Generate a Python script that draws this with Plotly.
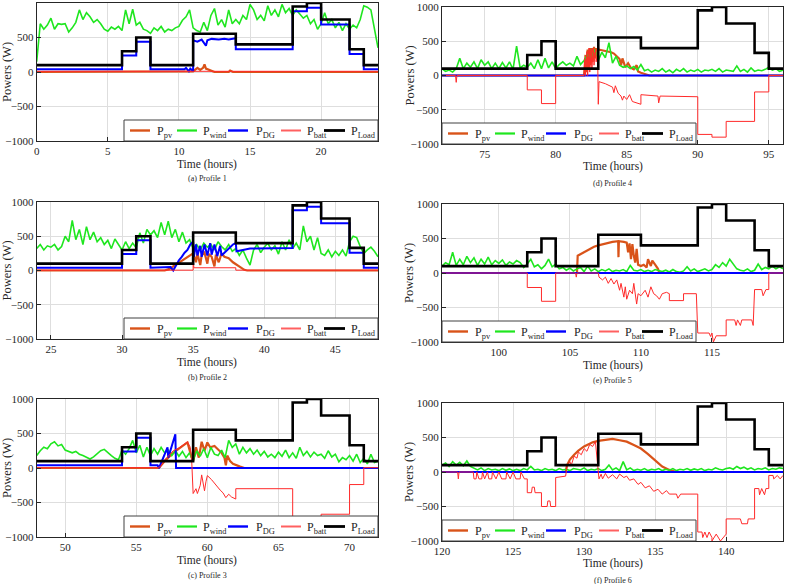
import numpy as np
import plotly.graph_objects as go

# ---------------- data ----------------
load_hourly = [100, 100, 100, 100, 100, 100, 300, 500, 100, 100, 100, 555,
               555, 555, 400, 400, 400, 400, 950, 1000, 760, 760, 330, 100]

profile_start = [0, 24, 48, 72, 96, 120]
captions = ["(a) Profile 1", "(b) Profile 2", "(c) Profile 3",
            "(d) Profile 4", "(e) Profile 5", "(f) Profile 6"]

# wind power sampled every 0.25 h over each 24 h profile
wind1 = [150, 700, 620, 680, 780, 620, 700, 690, 700, 580, 640, 720, 900, 760, 860, 800,
         720, 760, 700, 620, 590, 650, 620, 660, 600, 900, 700, 910, 680, 720, 620, 600,
         560, 640, 600, 660, 580, 620, 600, 640, 660, 750, 800, 900, 640, 600, 580, 720,
         600, 820, 920, 680, 760, 650, 900, 700, 760, 700, 820, 760, 980, 900, 760, 820,
         740, 960, 820, 900, 800, 980, 860, 920, 820, 900, 840, 780, 820, 700, 760, 620,
         700, 860, 700, 760, 640, 720, 600, 700, 620, 680, 640, 760, 960, 940, 900, 650, 350]
wind2 = [320, 380, 300, 360, 340, 380, 300, 350, 500, 420, 730, 450, 600, 380, 640, 450,
         560, 420, 480, 380, 440, 320, 460, 380, 300, 420, 320, 400, 330, 550, 400, 600,
         520, 580, 480, 700, 520, 720, 480, 600, 420, 560, 400, 450, 320, 380, 300, 400,
         340, 380, 300, 420, 350, 300, 380, 280, 320, 220, 300, 180, 80, 300, 380, 260,
         340, 400, 300, 360, 240, 420, 300, 450, 320, 400, 300, 650, 420, 500, 300, 480,
         250, 220, 300, 200, 280, 220, 300, 210, 420, 500, 480, 350, 250, 300, 340, 280, 200]
wind3 = [180, 250, 300, 280, 350, 380, 320, 340, 260, 240, 220, 240, 200, 180, 150, 130,
         160, 200, 250, 270, 220, 180, 140, 120, 260, 200, 280, 400, 220, 330, 160, 300,
         180, 280, 200, 300, 220, 260, 180, 250, 170, 240, 150, 220, 100, 250, 170, 280,
         150, 300, 200, 180, 260, 150, 400, 300, 350, 200, 300, 220, 280, 200, 260, 180,
         240, 160, 200, 150, 230, 170, 260, 150, 220, 140, 300, 180, 240, 160, 230, 180,
         200, 140, 250, 160, 200, 90, 150, 120, 180, 100, 200, 80, 140, 60, 200, 80, 100]
wind4 = [100, 60, 80, 50, 100, 250, 100, 180, 120, 200, 100, 230, 150, 200, 100, 180,
         100, 190, 110, 200, 90, 430, 110, 150, 120, 180, 100, 230, 100, 250, 110, 200,
         100, 160, 200, 150, 180, 140, 280, 160, 220, 300, 260, 380, 220, 340, 260, 480,
         180, 280, 150, 120, 140, 100, 130, 80, 160, 70, 90, 50, 80, 60, 100, 50,
         80, 40, 90, 60, 100, 50, 80, 60, 90, 50, 80, 70, 90, 60, 100, 50,
         80, 70, 60, 140, 60, 90, 50, 110, 60, 80, 70, 90, 120, 80, 100, 60, 80]
wind5 = [100, 150, 120, 300, 110, 200, 120, 240, 150, 220, 110, 200, 130, 230, 120, 180,
         140, 190, 110, 160, 130, 180, 150, 80, 130, 200, 90, 120, 60, 110, 200, 90,
         130, 60, 80, 40, 70, 30, 60, 80, 20, 100, 30, 60, 20, 50, 30, 60,
         20, 40, 30, 50, 20, 110, 40, 30, 50, 20, 40, 20, 50, 30, 20, 40,
         15, 50, 20, 10, 30, 90, 30, 60, 20, 40, 60, 30, 50, 120, 80, 150,
         100, 200, 120, 60, 40, 30, 60, 20, 40, 130, 50, 80, 60, 100, 60, 90, 60]
wind6 = [100, 130, 80, 150, 100, 140, 90, 160, 80, 50, 30, 60, 20, 50, 30, 40,
         20, 50, 25, 45, 20, 40, 20, 50, 30, 80, 30, 40, 20, 50, 30, 40,
         20, 50, 30, 40, 20, 50, 40, 30, 60, 20, 40, 30, 50, 20, 40, 100,
         30, 60, 20, 150, 30, 60, 20, 40, 25, 50, 20, 40, 30, 50, 20, 40,
         25, 50, 20, 40, 30, 50, 25, 45, 30, 50, 20, 40, 30, 60, 40, 30,
         50, 60, 40, 80, 50, 70, 40, 60, 30, 50, 40, 60, 30, 50, 40, 60, 50]

# PV, DG and battery power as (time h, power W) breakpoints
pv1 = [(0, 0), (11.0, 10), (11.3, 60), (11.5, 30), (11.7, 60), (11.8, 110), (11.9, 50),
       (12.2, 20), (12.5, 0), (13.5, 0), (13.6, 20), (13.8, 0), (24, 0)]
dg1 = [(0, 40), (6, 40), (6, 240), (7, 240), (7, 440), (8, 440), (8, 40), (10.4, 40),
       (10.5, 60), (10.7, 10), (10.8, 50), (11, 10), (11, 460), (11.3, 440), (11.6, 470),
       (11.9, 380), (12.0, 460), (12.3, 480), (12.8, 470), (13.2, 480), (13.5, 470),
       (14, 490), (14, 330), (18, 330), (18, 880), (19, 880), (19, 930), (20, 930),
       (20, 690), (22, 690), (22, 260), (23, 260), (23, 40), (24, 40)]
batt1 = [(0, 10), (24, 10)]

pv2 = [(24, 0), (33, 0), (33.3, 20), (33.6, 60), (33.9, 100), (34.2, 150), (34.5, 190),
       (34.8, 230), (35, 250), (35.2, 120), (35.3, 250), (35.5, 80), (35.6, 220), (35.8, 260),
       (36, 100), (36.1, 240), (36.3, 200), (36.5, 60), (36.6, 230), (36.8, 120), (37, 250),
       (37.2, 200), (37.5, 180), (37.8, 120), (38.0, 90), (38.3, 50), (38.6, 10), (38.8, 0),
       (48, 0)]
dg2 = [(24, 40), (30, 40), (30, 240), (31, 240), (31, 440), (32, 440), (32, 40), (33.2, 40),
       (33.4, 50), (33.6, 0), (33.8, 80), (34.0, 150), (34.2, 200), (34.4, 260), (34.6, 300),
       (34.8, 380), (35.0, 420), (35.05, 200), (35.2, 380), (35.3, 220), (35.5, 360),
       (35.6, 200), (35.8, 380), (36, 220), (36.2, 400), (36.3, 230), (36.5, 380), (36.7, 210),
       (36.9, 360), (37, 220), (37.2, 260), (37.5, 320), (37.8, 380), (38, 400), (38.05, 280),
       (38.5, 300), (39, 320), (42, 330), (42, 880), (43, 880), (43, 930), (44, 930),
       (44, 690), (46, 690), (46, 260), (47, 260), (47, 40), (48, 40)]
batt2 = [(24, 5), (35, 5), (35, 220), (35.05, 40), (38, 40), (38, 5), (48, 5)]

pv3 = [(48, 0), (56.6, 0), (57.0, 100), (57.5, 200), (58.0, 280), (58.6, 370), (58.9, 150),
       (59.0, 100), (59.2, 300), (59.4, 150), (59.6, 380), (59.8, 250), (60.0, 370),
       (60.2, 300), (60.5, 320), (60.8, 260), (61.0, 220), (61.2, 150), (61.3, 40),
       (61.4, 180), (61.6, 100), (61.8, 60), (62.0, 40), (62.3, 20), (62.6, 0), (72, 0)]
dg3 = [(48, 40), (54, 40), (54, 240), (55, 240), (55, 440), (56, 440), (56, 40), (56.5, 40),
       (56.6, 0), (57.2, 300), (57.25, 150), (57.75, 490), (57.8, 0), (72, 0)]
batt3 = [(48, 5), (56.5, 5), (56.7, 20), (57.0, 120), (57.3, 180), (57.6, 250), (58.0, 290),
         (58.3, 330), (58.6, 380), (58.8, 300), (58.9, 100), (59.0, -370), (59.2, -300),
         (59.3, -370), (59.5, -250), (59.6, -100), (59.7, -250), (59.8, -330), (59.9, -200),
         (60.0, -110), (60.3, -170), (60.6, -250), (60.9, -320), (61.1, -360), (61.3, -430),
         (61.5, -380), (61.7, -420), (62, -450), (62, -300), (66, -300), (66, -880),
         (68, -880), (68, -670), (70, -670), (70, -240), (71, -240), (71, 5), (72, 5)]

pv4 = [(72, 0), (82, 0), (82.1, 300), (82.15, 50), (82.25, 380), (82.3, 100), (82.4, 400),
       (82.45, 150), (82.55, 400), (82.6, 200), (82.7, 420), (82.75, 250), (82.85, 400),
       (82.9, 300), (83, 380), (83.3, 370), (83.6, 360), (83.9, 340), (84.1, 320), (84.3, 280),
       (84.5, 240), (84.6, 150), (84.7, 250), (84.9, 120), (85.1, 180), (85.3, 110),
       (85.5, 90), (85.7, 150), (85.8, 60), (86, 40), (86.3, 20), (86.6, 0), (96, 0)]
dg4 = [(72, 0), (96, 0)]
batt4 = [(72, 0), (72.95, 0), (73.0, -100), (73.05, 0), (78, 0), (78, -210), (79, -210),
         (79, -410), (80, -410), (80, 0), (82, 0), (82.05, 250), (82.1, 0), (82.2, 350),
         (82.25, 0), (82.35, 400), (82.4, 50), (82.5, 380), (82.55, 100), (82.65, 400),
         (82.7, 150), (82.8, 380), (82.85, 200), (82.95, 350), (83, -420), (83.05, -90),
         (83.5, -120), (84, -170), (84.1, -250), (84.2, -150), (84.4, -260), (84.6, -300),
         (84.7, -360), (84.8, -300), (85, -350), (85.2, -280), (85.4, -380), (85.8, -400),
         (86, -420), (86, -280), (86.5, -290), (87.2, -300), (87.25, -400), (87.35, -300),
         (90, -310), (90, -860), (91, -860), (91, -900), (92, -900), (92, -670), (94, -670),
         (94, -240), (95, -240), (95, 0), (96, 0)]

pv5 = [(96, 0), (105.5, 0), (105.55, 250), (105.8, 280), (106.1, 320), (106.4, 350),
       (106.7, 380), (107, 400), (107.5, 430), (108, 450), (108.4, 460), (108.42, 230),
       (108.45, 460), (108.8, 450), (109, 440), (109.1, 300), (109.2, 430), (109.3, 200),
       (109.4, 420), (109.5, 250), (109.6, 150), (109.7, 350), (109.8, 120), (110, 100),
       (110.2, 120), (110.4, 80), (110.5, 200), (110.7, 100), (110.8, 180), (111, 120),
       (111.2, 60), (111.3, 0), (120, 0)]
dg5 = [(96, 0), (120, 0)]
batt5 = [(96, 0), (102, 0), (102, -210), (103, -210), (103, -410), (104, -410), (104, 0),
         (105.4, 0), (105.45, -60), (105.5, 0), (107, 0), (107.05, -60), (107.3, -100),
         (107.5, -60), (107.7, -150), (107.9, -80), (108.1, -160), (108.3, -100),
         (108.5, -250), (108.6, -150), (108.8, -350), (108.9, -200), (109.0, -380),
         (109.2, -250), (109.4, -300), (109.5, -150), (109.7, -450), (109.8, -300),
         (110, -330), (110.3, -250), (110.5, -350), (110.7, -200), (110.9, -300),
         (111.1, -330), (111.3, -380), (111.5, -300), (111.8, -280), (112, -300), (112, -400),
         (113, -400), (113, -300), (113.9, -300), (114, -870), (114.8, -870), (114.9, -920),
         (115, -870), (115.1, -1000), (115.3, -910), (116, -910), (116, -680), (116.6, -680),
         (116.7, -760), (116.8, -680), (117.0, -760), (117.1, -680), (117.8, -680),
         (117.9, -760), (118, -240), (118.5, -240), (118.6, -330), (118.8, -240), (119, -240),
         (119, 0), (120, 0)]

pv6 = [(120, 0), (128.7, 0), (128.8, 100), (129, 180), (129.3, 250), (129.6, 310), (130, 370),
       (130.3, 400), (130.6, 430), (131, 450), (131.5, 470), (132, 480), (132.5, 460),
       (133, 440), (133.5, 390), (134, 340), (134.5, 260), (135, 170), (135.5, 80),
       (136, 30), (136.5, 0), (144, 0)]
dg6 = [(120, 0), (144, 0)]
batt6 = [(120, 0), (121.1, 0), (121.15, -100), (121.2, 0), (122.2, 0), (122.25, -100),
         (122.4, -100), (122.45, 0), (122.6, -100), (122.8, -100), (122.85, 0), (123, -100),
         (123.2, 0), (123.3, -100), (123.5, -100), (123.55, 0), (123.8, -100), (124, 0),
         (124.2, -100), (124.5, -100), (124.55, 0), (124.8, -100), (125, 0), (125.2, -100),
         (125.5, -100), (125.55, 0), (125.8, -100), (126, -100), (126, -300), (126.3, -300),
         (126.35, -220), (126.5, -220), (126.55, -300), (127, -300), (127, -500),
         (127.4, -500), (127.45, -420), (127.6, -420), (127.65, -500), (128, -500),
         (128, -80), (128.7, -60), (128.8, 80), (129, 150), (129.1, 100), (129.3, 230),
         (129.5, 200), (129.6, 290), (129.8, 250), (130, 340), (130.2, 300), (130.4, 400),
         (130.6, 370), (130.8, 440), (131, 0), (131.05, -100), (131.2, -30), (131.3, -100),
         (131.5, -20), (131.7, -90), (132, -40), (132.3, -100), (132.5, -30), (132.8, -80),
         (133, -60), (133.2, -120), (133.5, -100), (133.8, -180), (134, -150), (134.3, -230),
         (134.6, -200), (134.9, -280), (135.2, -250), (135.5, -320), (135.8, -270),
         (136, -320), (136.5, -320), (136.6, -380), (136.8, -320), (138, -320), (138, -870),
         (138.3, -870), (138.35, -950), (138.5, -870), (138.65, -950), (138.8, -870),
         (139, -950), (139, -1000), (139.3, -900), (139.6, -1000), (140, -900), (140, -680),
         (141, -680), (141.1, -750), (141.5, -750), (141.55, -680), (142, -680), (142, -240),
         (142.3, -240), (142.35, -330), (142.5, -240), (142.7, -330), (142.8, -240),
         (143, -240), (143, -50), (143.3, -50), (143.35, -100), (143.6, -50), (143.8, -100),
         (144, -50)]

winds = [wind1, wind2, wind3, wind4, wind5, wind6]
pvs = [pv1, pv2, pv3, pv4, pv5, pv6]
dgs = [dg1, dg2, dg3, dg4, dg5, dg6]
batts = [batt1, batt2, batt3, batt4, batt5, batt6]

# ---------------- layout geometry (pixels) ----------------
W, H = 790, 584
FONT = "Liberation Serif"
col_x = [(36.7, 378.0), (442.0, 783.0)]
rows = [[(3, 141), (202, 339), (399, 537)], [(7, 144), (204, 342), (403, 541)]]
xtitle_y = [[164, 362, 560], [166, 365, 563]]
cap_y = [[178, 377, 575], [183, 380, 580]]
ytitle_x = [7, 409]
LEG_W, LEG_H = 254, 21
leg_line = [(6, 26), (53, 73), (104, 124), (157, 177), (200, 221)]
leg_text = [31, 77, 130, 181, 225]


def px(x):
    return x / W


def py(y):
    return 1 - y / H


keys = ["pv", "wind", "dg", "batt", "load"]
colors = {"pv": "#D95319", "wind": "#1FE61F", "dg": "#0000FF", "batt": "#FF2A2A", "load": "#000000"}
widths = {"pv": 2.2, "wind": 1.6, "dg": 2.0, "batt": 1.0, "load": 2.6}
leg_widths = {"pv": 2.4, "wind": 2.2, "dg": 2.4, "batt": 2.0, "load": 2.8}
leg_colors = {"pv": "#D95319", "wind": "#1FE61F", "dg": "#0000FF", "batt": "#FF6060", "load": "#000000"}
names = {"pv": "P<sub>pv</sub>", "wind": "P<sub>wind</sub>", "dg": "P<sub>DG</sub>",
         "batt": "P<sub>batt</sub>", "load": "P<sub>Load</sub>"}

fig = go.Figure()
annotations = []
shapes = []
layout = {}

for i in range(6):
    col = i // 3
    row = i % 3
    k = i + 1
    xa = "x" if k == 1 else f"x{k}"
    ya = "y" if k == 1 else f"y{k}"
    t0 = profile_start[i]

    t_w = np.linspace(t0, t0 + 24, len(winds[i]))
    t_load = t0 + np.arange(len(load_hourly) + 1)
    v_load = load_hourly + [load_hourly[-1]]

    series = [
        ("pv", [p[0] for p in pvs[i]], [p[1] for p in pvs[i]], "linear"),
        ("wind", t_w, winds[i], "linear"),
        ("dg", [p[0] for p in dgs[i]], [p[1] for p in dgs[i]], "linear"),
        ("batt", [p[0] for p in batts[i]], [p[1] for p in batts[i]], "linear"),
        ("load", t_load, v_load, "hv"),
    ]
    for key, xs, ys, shape in series:
        fig.add_trace(go.Scatter(
            x=xs, y=ys, mode="lines", name=names[key],
            line=dict(color=colors[key], width=widths[key], shape=shape),
            xaxis=xa, yaxis=ya, showlegend=False, hoverinfo="skip"))

    x0, x1 = col_x[col]
    ytop, ybot = rows[col][row]
    axis_common = dict(
        showgrid=True, gridcolor="#dedede", gridwidth=1,
        showline=True, mirror=True, linecolor="#262626", linewidth=1,
        ticks="inside", ticklen=4, tickcolor="#262626",
        tickfont=dict(family=FONT, size=11, color="#262626"),
        zeroline=False, automargin=False,
    )
    layout["xaxis" if k == 1 else f"xaxis{k}"] = dict(
        domain=[px(x0), px(x1)], range=[t0, t0 + 24], tick0=0, dtick=5,
        anchor=ya, **axis_common)
    layout["yaxis" if k == 1 else f"yaxis{k}"] = dict(
        domain=[py(ybot), py(ytop)], range=[-1000, 1000],
        tickvals=[-1000, -500, 0, 500, 1000], anchor=xa, **axis_common)

    # legend box (drawn as shapes + text)
    lx0 = x1 - LEG_W if col == 0 else x0
    ly1 = ybot
    ly0 = ybot - LEG_H
    shapes.append(dict(type="rect", xref="paper", yref="paper",
                       x0=px(lx0), x1=px(lx0 + LEG_W), y0=py(ly1), y1=py(ly0),
                       fillcolor="white", line=dict(color="#404040", width=1), layer="above"))
    ymid = (ly0 + ly1) / 2
    for j, key in enumerate(keys):
        shapes.append(dict(type="line", xref="paper", yref="paper",
                           x0=px(lx0 + leg_line[j][0]), x1=px(lx0 + leg_line[j][1]),
                           y0=py(ymid), y1=py(ymid),
                           line=dict(color=leg_colors[key], width=leg_widths[key]), layer="above"))
        annotations.append(dict(x=px(lx0 + leg_text[j]), y=py(ymid + 1), xref="paper", yref="paper",
                                text=names[key], showarrow=False, xanchor="left", yanchor="middle",
                                font=dict(family=FONT, size=12, color="#262626")))

    xc = (x0 + x1) / 2
    annotations.append(dict(x=px(xc), y=py(xtitle_y[col][row]), xref="paper", yref="paper",
                            text="Time (hours)", showarrow=False, xanchor="center", yanchor="middle",
                            font=dict(family=FONT, size=11.5, color="#262626")))
    annotations.append(dict(x=px(xc), y=py(cap_y[col][row]), xref="paper", yref="paper",
                            text=captions[i], showarrow=False, xanchor="center", yanchor="middle",
                            font=dict(family=FONT, size=8, color="#262626")))
    annotations.append(dict(x=px(ytitle_x[col]), y=py((ytop + ybot) / 2), xref="paper", yref="paper",
                            text="Powers (W)", showarrow=False, textangle=-90,
                            xanchor="center", yanchor="middle",
                            font=dict(family=FONT, size=12.5, color="#262626")))

fig.update_layout(
    width=W, height=H, margin=dict(l=0, r=0, t=0, b=0, autoexpand=False),
    paper_bgcolor="white", plot_bgcolor="white", showlegend=False,
    annotations=annotations, shapes=shapes, **layout)

fig.write_html("out.html", config={"displayModeBar": False, "staticPlot": True},
               post_script="document.body.style.margin='0';document.body.style.overflow='hidden';")
